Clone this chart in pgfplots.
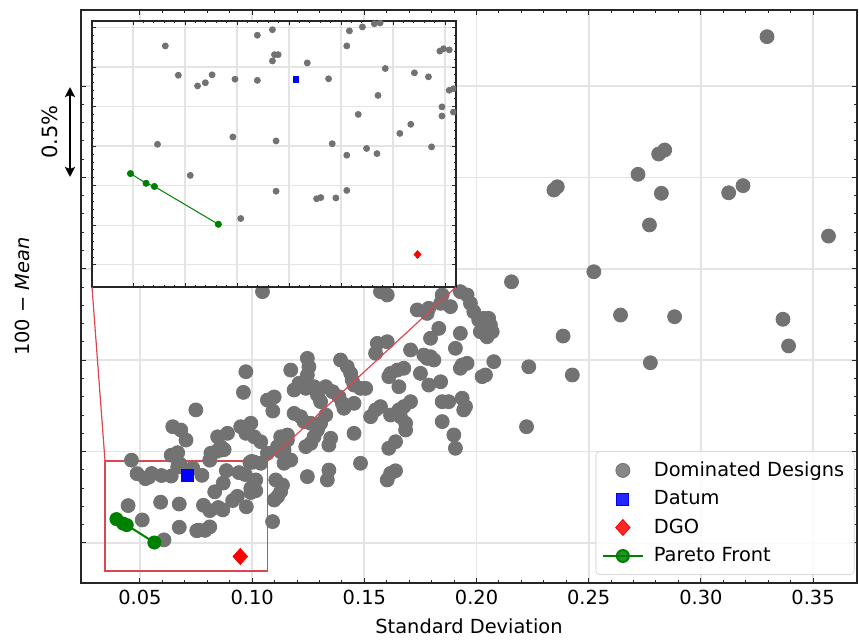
\documentclass[border=0pt]{standalone}
\usepackage{fontspec}
\setmainfont{DejaVu Sans}
\usepackage{pgfplots}
\pgfplotsset{compat=1.18}
\usepackage{pgfplotstable}
\usetikzlibrary{arrows.meta}
\definecolor{dotgray}{RGB}{114,114,114}
\definecolor{gridgray}{RGB}{228,228,228}
\definecolor{zoomred}{RGB}{220,70,80}
\definecolor{pgreen}{RGB}{0,128,0}

\pgfplotstableread{
x y
0.3295 3.770
0.2839 3.150
0.2812 3.128
0.2720 3.017
0.2824 2.913
0.2771 2.740
0.3124 2.916
0.3188 2.955
0.3569 2.679
0.2523 2.484
0.2345 2.931
0.2360 2.949
0.2642 2.247
0.2883 2.238
0.3366 2.224
0.3391 2.078
0.2775 1.986
0.2427 1.919
0.2386 2.132
0.2156 2.429
0.2233 1.964
0.2223 1.636
0.2077 1.992
0.2040 1.919
0.2025 1.910
0.1928 2.375
0.1958 2.357
0.1847 2.357
0.1840 2.311
0.1884 2.293
0.1736 2.275
0.1787 2.284
0.1780 2.256
0.1973 2.311
0.1988 2.265
0.2010 2.220
0.2032 2.229
0.2054 2.229
0.2062 2.192
0.2070 2.156
0.2047 2.128
0.2017 2.156
0.1832 2.174
0.1795 2.120
0.1928 2.147
0.1906 2.065
0.1706 2.056
0.1765 2.028
0.1795 2.019
0.1810 2.001
0.1780 2.010
0.1936 1.974
0.1958 1.983
0.1928 1.956
0.1558 2.092
0.1602 2.101
0.1550 2.038
0.1647 1.946
0.1676 1.956
0.1617 1.928
0.1609 1.910
0.1654 1.855
0.1750 1.928
0.1787 1.864
0.1840 1.882
0.1847 1.773
0.1876 1.773
0.1936 1.792
0.1951 1.746
0.1943 1.728
0.1847 1.664
0.1899 1.591
0.1906 1.518
0.1706 1.773
0.1676 1.746
0.1654 1.728
0.1661 1.691
0.1684 1.655
0.1684 1.618
0.1572 1.746
0.1550 1.728
0.1528 1.691
0.1617 1.700
0.1639 1.554
0.1609 1.518
0.1454 1.764
0.1483 1.846
0.1506 1.846
0.1454 1.600
0.1394 2.001
0.1424 1.964
0.1439 1.928
0.1446 1.892
0.1454 1.864
0.1328 1.855
0.1358 1.828
0.1387 1.800
0.1402 1.764
0.1409 1.737
0.1246 2.010
0.1253 1.964
0.1246 1.919
0.1239 1.846
0.1172 1.946
0.1209 1.874
0.1187 1.837
0.1276 1.855
0.1291 1.810
0.1305 1.773
0.1328 1.700
0.1305 1.655
0.1291 1.618
0.1276 1.581
0.1261 1.545
0.1239 1.527
0.1342 1.536
0.1350 1.573
0.1187 1.709
0.1216 1.691
0.1231 1.664
0.1261 1.655
0.1157 1.591
0.1142 1.509
0.1127 1.499
0.1246 1.363
0.1342 1.399
0.1335 1.345
0.1483 1.436
0.1617 1.381
0.1639 1.395
0.1602 1.345
0.1105 1.345
0.1135 1.317
0.1127 1.281
0.1113 1.253
0.1098 1.235
0.1091 1.117
0.1142 1.436
0.1572 2.375
0.1602 2.357
0.1046 2.375
0.0972 1.937
0.0961 1.824
0.0749 1.728
0.1068 1.782
0.1098 1.799
0.1092 1.722
0.0646 1.636
0.0682 1.618
0.0705 1.563
0.0949 1.636
0.0994 1.655
0.0972 1.600
0.1009 1.581
0.1038 1.554
0.0846 1.581
0.0890 1.600
0.0860 1.527
0.1127 1.581
0.1157 1.563
0.1113 1.527
0.1172 1.454
0.1068 1.491
0.1038 1.436
0.0462 1.453
0.0487 1.379
0.0524 1.352
0.0539 1.360
0.0552 1.380
0.0596 1.369
0.0639 1.366
0.0639 1.480
0.0668 1.494
0.0672 1.431
0.0679 1.431
0.0668 1.415
0.0447 1.2045
0.0592 1.223
0.0675 1.213
0.0510 1.126
0.0675 1.086
0.0607 1.017
0.0735 1.410
0.0776 1.370
0.0816 1.491
0.0811 1.453
0.0841 1.501
0.0864 1.509
0.0875 1.511
0.0885 1.396
0.0871 1.328
0.0833 1.280
0.0783 1.206
0.0811 1.177
0.0849 1.194
0.0869 1.181
0.0913 1.232
0.0934 1.255
0.0941 1.385
0.0968 1.375
0.0990 1.440
0.0997 1.446
0.1008 1.443
0.1008 1.341
0.1016 1.345
0.0994 1.299
0.0994 1.276
0.1016 1.286
0.0974 1.198
0.0753 1.067
0.0761 1.070
0.0790 1.069
0.0811 1.088
}\dom

\pgfplotstableread{
x y
0.0395 1.1306
0.0425 1.106
0.0441 1.098
0.0564 1.0025
}\pareto

\pgfplotstableread{
x y
0.0713 1.369
}\datum

\pgfplotstableread{
x y
0.0947 0.926
}\dgo

\begin{document}
\begin{tikzpicture}
\useasboundingbox (-40.5pt,-28pt) rectangle (389pt,291.5pt);
\begin{axis}[
  name=main, at={(0pt,0pt)}, anchor=south west,
  scale only axis, width=388pt, height=286.5pt,
  xmin=0.0237, xmax=0.3696, ymin=0.781, ymax=3.916,
  xtick={0.05,0.1,0.15,0.2,0.25,0.3,0.35},
  ytick={1,1.5,2,2.5,3,3.5}, yticklabels={},
  minor x tick num=4, minor y tick num=4,
  tick align=inside,
  major tick length=2.6pt, minor tick length=1.4pt,
  tick style={black!85, line width=0.5pt},
  grid=major, major grid style={gridgray, line width=0.9pt},
  axis line style={black!85, line width=0.8pt},
  xlabel={Standard Deviation},
  ylabel={100 − \textit{Mean}},
  ylabel style={at={(axis description cs:-0.076,0.5)}, anchor=center},
  tick label style={font=\fontsize{9.7}{11}\selectfont},
  label style={font=\fontsize{9.7}{11}\selectfont},
  /pgf/number format/assume math mode=true,
  xticklabel style={/pgf/number format/.cd, fixed, fixed zerofill, precision=2},
  legend image code/.code={\draw[mark repeat=2,mark phase=2] plot coordinates {(0pt,0pt) (10pt,0pt) (20pt,0pt)};},
  legend style={at={(0.997,0.014)}, anchor=south east, draw=black!15, fill=white, fill opacity=0.85, text opacity=1,
    rounded corners=2pt, font=\fontsize{9.7}{11}\selectfont, row sep=1.6pt, column sep=3pt, inner xsep=3pt, inner ysep=3pt},
  legend cell align=left,
]
\addplot[only marks, mark=*, mark size=3.5pt, color=dotgray, mark options={fill=dotgray, draw=dotgray}] table {\dom};
\addlegendentry{Dominated Designs}
\addplot[only marks, mark=square*, mark size=3pt, color=blue, mark options={fill=blue, draw=blue}] table {\datum};
\addlegendentry{Datum}
\addplot[only marks, mark=diamond*, mark size=4pt, color=red, mark options={fill=red, draw=red, xscale=1.2}] table {\dgo};
\addlegendentry{DGO}
\addplot[color=pgreen, line width=1pt, mark=*, mark size=3pt, mark options={solid, fill=pgreen}] table {\pareto};
\addlegendentry{Pareto Front}
\draw[zoomred, line width=0.6pt] (axis cs:0.0344,0.847) rectangle (axis cs:0.107,1.449);
\coordinate (rtl) at (axis cs:0.0344,1.449);
\coordinate (rtr) at (axis cs:0.107,1.449);
\end{axis}
\begin{axis}[
  name=inset, at={(5.5pt,148pt)}, anchor=south west,
  scale only axis, width=182pt, height=133pt,
  xmin=0.0321, xmax=0.1021, ymin=0.844, ymax=1.516,
  xtick={0.04,0.05,0.06,0.07,0.08,0.09,0.1},
  ytick={0.9,1.0,1.1,1.2,1.3,1.4,1.5},
  xticklabels={}, yticklabels={},
  minor x tick num=4, minor y tick num=4,
  tick align=inside,
  major tick length=2pt, minor tick length=1pt,
  tick style={black!85, line width=0.4pt},
  grid=major, major grid style={gridgray, line width=0.6pt},
  axis line style={black!85, line width=0.6pt},
  axis background/.style={fill=white},
  clip marker paths=true,
]
\addplot[only marks, mark=*, mark size=1.5pt, color=dotgray, mark options={fill=dotgray, draw=dotgray}] table {\dom};
\addplot[only marks, mark=square*, mark size=1.4pt, color=blue, mark options={fill=blue, draw=blue}] table {\datum};
\addplot[only marks, mark=diamond*, mark size=1.9pt, color=red, mark options={fill=red, draw=red, xscale=1.2}] table {\dgo};
\addplot[color=pgreen, line width=0.5pt, mark=*, mark size=1.5pt, mark options={solid, fill=pgreen}] table {\pareto};
\end{axis}
\draw[zoomred, line width=0.6pt] (rtl) -- (inset.south west);
\draw[zoomred, line width=0.6pt] (rtr) -- (inset.south east);
\draw[{Stealth[length=5pt,width=5pt,inset=1pt]}-{Stealth[length=5pt,width=5pt,inset=1pt]}, line width=1pt] (-5.5pt,203pt) -- (-5.5pt,248pt);
\node[rotate=90, font=\fontsize{10.5}{12}\selectfont, inner sep=0pt] at (-15.5pt,225.5pt) {0.5\%};
\end{tikzpicture}
\end{document}
